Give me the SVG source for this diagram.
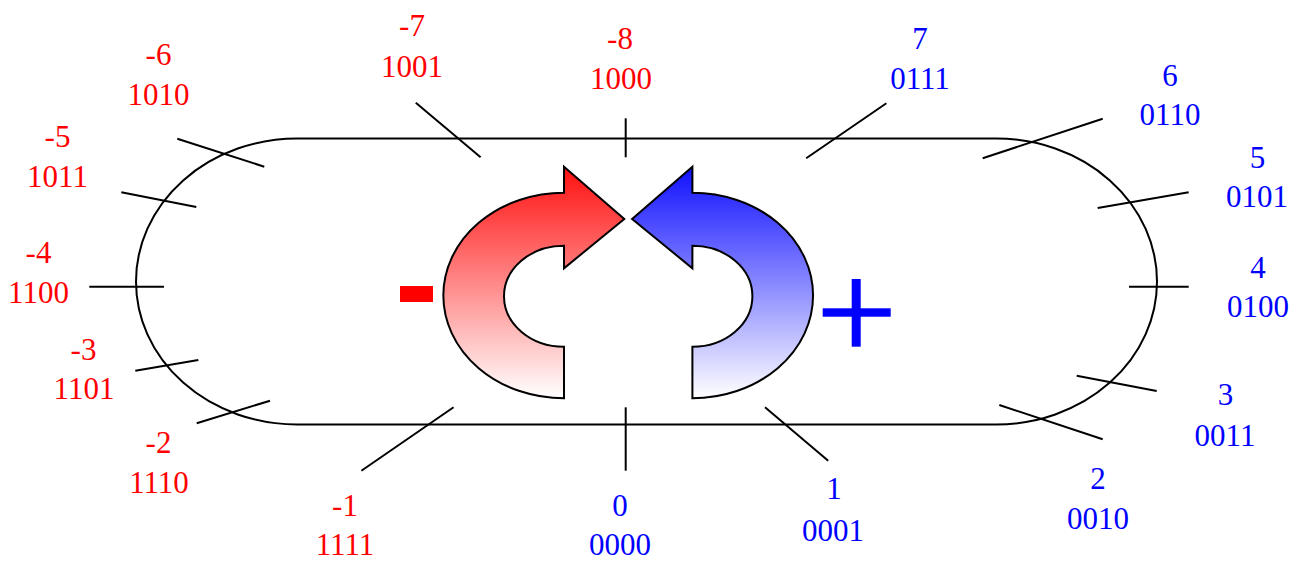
<svg xmlns="http://www.w3.org/2000/svg" width="1301" height="561" viewBox="0 0 1301 561">
  <defs>
    <linearGradient id="gRed" x1="0" y1="0" x2="0" y2="1">
      <stop offset="0" stop-color="#ff1010"/>
      <stop offset="1" stop-color="#ffffff"/>
    </linearGradient>
    <linearGradient id="gBlue" x1="0" y1="0" x2="0" y2="1">
      <stop offset="0" stop-color="#1010ff"/>
      <stop offset="1" stop-color="#ffffff"/>
    </linearGradient>
    <style>
      text { font-family: "Liberation Serif", "Times New Roman", serif; font-size: 31px; text-anchor: middle; }
      .neg text { fill: #ff0000; }
      .pos text { fill: #0000ff; }
      .tick { stroke: #000; stroke-width: 2; fill: none; }
      .arrow { stroke: #000; stroke-width: 2; stroke-linejoin: miter; }
    </style>
  </defs>
  <rect width="1301" height="561" fill="#ffffff"/>

  <g id="ring">
    <path d="M 297 138.5 H 996 A 161 143 0 0 1 996 424.5 H 297 A 161 143 0 0 1 297 138.5 Z" fill="none" stroke="#000" stroke-width="2"/>
  </g>

  <g id="connectors" class="tick">
    <line x1="625.7" y1="118.3" x2="625.7" y2="157.3"/>
    <line x1="415.8" y1="102.7" x2="480.6" y2="157.3"/>
    <line x1="886.4" y1="103.3" x2="806.2" y2="158.3"/>
    <line x1="177.3" y1="138.7" x2="264.3" y2="166.7"/>
    <line x1="121.3" y1="192.3" x2="196.3" y2="207"/>
    <line x1="89.3" y1="286.7" x2="164" y2="286.7"/>
    <line x1="135.3" y1="370.7" x2="198.3" y2="360"/>
    <line x1="196.7" y1="423.3" x2="270" y2="400.7"/>
    <line x1="453.6" y1="407.3" x2="361.4" y2="470.7"/>
    <line x1="625.7" y1="407.3" x2="625.7" y2="470.7"/>
    <line x1="765" y1="407.3" x2="828.2" y2="460.7"/>
    <line x1="999.3" y1="405" x2="1102.7" y2="439.3"/>
    <line x1="1076.7" y1="375.7" x2="1156.7" y2="391"/>
    <line x1="1129" y1="286.7" x2="1188.7" y2="286.7"/>
    <line x1="1097.7" y1="208" x2="1188.7" y2="192.3"/>
    <line x1="982.7" y1="158.3" x2="1102.7" y2="118.7"/>
  </g>

  <g id="arrow-neg">
    <path class="arrow" fill="url(#gRed)" d="M 564 166.7 L 624.3 219 L 564 268.3 L 564 245.7 A 60 50.5 0 0 0 564 346.7 L 564 398.3 A 120.7 102.8 0 0 1 564 192.7 Z"/>
    <rect x="400" y="286" width="33" height="16" fill="#ff0000"/>
  </g>
  <g id="arrow-pos">
    <path class="arrow" fill="url(#gBlue)" d="M 692.4 166.7 L 632.1 219 L 692.4 268.3 L 692.4 245.7 A 60 50.5 0 0 1 692.4 346.7 L 692.4 398.3 A 120.7 102.8 0 0 0 692.4 192.7 Z"/>
    <rect x="822.7" y="308.3" width="68" height="8.4" fill="#0000ff"/>
    <rect x="851.7" y="279" width="9" height="67.7" fill="#0000ff"/>
  </g>

  <g id="label-m8" class="neg"><text x="620" y="49.3">-8</text><text x="621" y="89.3">1000</text></g>
  <g id="label-m7" class="neg"><text x="412" y="36">-7</text><text x="412" y="76.7">1001</text></g>
  <g id="label-m6" class="neg"><text x="158.5" y="65">-6</text><text x="158.5" y="105">1010</text></g>
  <g id="label-m5" class="neg"><text x="57.5" y="147">-5</text><text x="57.5" y="187">1011</text></g>
  <g id="label-m4" class="neg"><text x="38.5" y="263">-4</text><text x="38.5" y="303">1100</text></g>
  <g id="label-m3" class="neg"><text x="83.5" y="360">-3</text><text x="84" y="399">1101</text></g>
  <g id="label-m2" class="neg"><text x="158.5" y="453">-2</text><text x="159" y="493">1110</text></g>
  <g id="label-m1" class="neg"><text x="345" y="515.5">-1</text><text x="345" y="554.5">1111</text></g>

  <g id="label-0" class="pos"><text x="620" y="515.5">0</text><text x="620" y="554.5">0000</text></g>
  <g id="label-1" class="pos"><text x="834" y="499">1</text><text x="833" y="541">0001</text></g>
  <g id="label-2" class="pos"><text x="1098" y="489">2</text><text x="1098" y="529">0010</text></g>
  <g id="label-3" class="pos"><text x="1225.5" y="405">3</text><text x="1225" y="446">0011</text></g>
  <g id="label-4" class="pos"><text x="1258" y="277.7">4</text><text x="1258" y="316.7">0100</text></g>
  <g id="label-5" class="pos"><text x="1257.5" y="167.7">5</text><text x="1257" y="206.7">0101</text></g>
  <g id="label-6" class="pos"><text x="1170" y="85.7">6</text><text x="1170" y="125">0110</text></g>
  <g id="label-7" class="pos"><text x="920" y="49.3">7</text><text x="920" y="89.3">0111</text></g>
</svg>
